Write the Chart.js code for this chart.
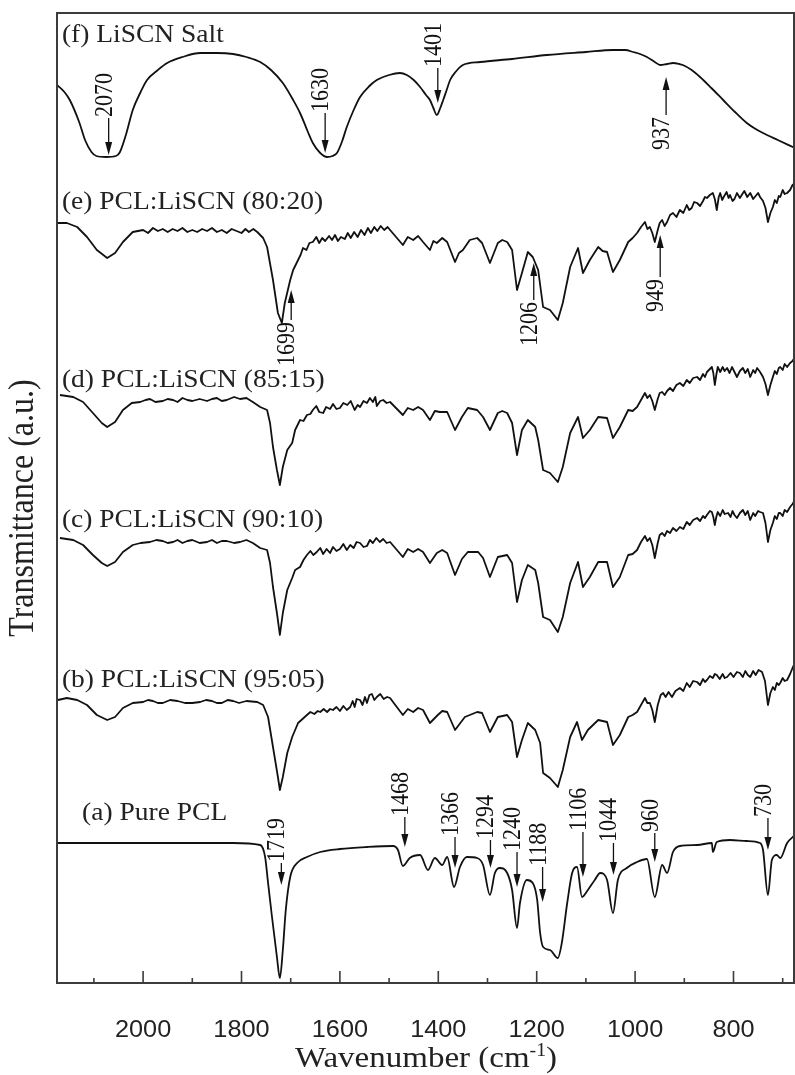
<!DOCTYPE html>
<html>
<head>
<meta charset="utf-8">
<title>FTIR spectra PCL:LiSCN</title>
<script src="https://cdn.jsdelivr.net/npm/chart.js@4.4.1/dist/chart.umd.min.js"></script>
<style>
  html, body { margin: 0; padding: 0; background: #fff; }
  #wrap { width: 795px; height: 1075px; position: relative; }
</style>
</head>
<body>
<div id="wrap"><canvas id="ftirChart"></canvas></div>
<script>
// [波数 (cm-1), 透過率 (a.u.)]  各スペクトルは縦方向にずらして読み取り
const liscnSalt = [[2175,89.8],[2160,89.1],[2149,88.3],[2130,86.1],[2118,84.3],[2105,83.1],[2095,82.7],[2075,82.6],[2055,82.7],[2047,83.1],[2035,84.8],[2021,87.3],[2005,89.1],[1992,90.3],[1970,91.3],[1951,92.0],[1920,92.6],[1884,93.0],[1850,93.0],[1817,92.9],[1790,92.6],[1762,92.1],[1740,91.3],[1716,90.0],[1695,88.3],[1681,87.0],[1665,85.1],[1655,84.0],[1640,83.0],[1626,82.6],[1615,82.7],[1606,83.0],[1596,84.1],[1586,85.6],[1572,87.3],[1559,88.6],[1540,89.7],[1525,90.3],[1500,90.8],[1478,91.0],[1464,90.8],[1450,90.3],[1437,89.6],[1425,88.8],[1417,88.3],[1410,87.5],[1403,86.8],[1396,87.5],[1390,88.3],[1383,89.3],[1376,90.3],[1365,91.1],[1350,91.8],[1315,92.1],[1250,92.4],[1179,92.8],[1100,93.1],[1045,93.3],[1020,93.3],[1004,93.1],[990,92.9],[976,92.6],[960,92.1],[949,91.8],[935,91.9],[923,92.0],[910,91.9],[903,91.8],[885,91.3],[868,90.6],[845,89.5],[821,88.3],[797,87.1],[773,86.0],[755,85.4],[740,85.0],[710,84.3],[675,83.5]];

const pcl8020 = [[2173,76.0],[2155,76.0],[2134,75.6],[2114,74.6],[2094,73.3],[2073,72.5],[2057,73.0],[2041,74.1],[2021,75.1],[2000,75.3],[1990,75.0],[1980,75.5],[1970,75.2],[1960,75.4],[1950,75.1],[1940,75.4],[1930,75.2],[1920,75.5],[1910,75.1],[1900,75.3],[1890,75.1],[1880,75.4],[1870,75.2],[1860,75.5],[1850,75.1],[1840,75.3],[1830,75.0],[1820,75.4],[1810,75.2],[1800,75.0],[1792,75.4],[1785,75.1],[1776,75.4],[1768,75.1],[1756,74.5],[1748,73.6],[1736,70.3],[1726,67.0],[1718,66.0],[1712,68.0],[1701,70.3],[1695,71.3],[1685,72.3],[1680,72.8],[1675,73.5],[1668,73.3],[1662,74.0],
  [1655,74.1],[1648,74.6],[1642,74.0],[1636,74.5],[1630,74.2],[1622,74.7],[1616,74.3],[1610,74.8],[1604,74.2],[1598,74.6],[1590,74.4],[1584,75.0],[1578,74.5],[1571,75.1],[1564,74.6],[1557,75.3],[1550,74.8],[1543,75.5],[1537,75.0],[1530,75.6],[1524,75.2],[1517,75.7],[1510,75.3],[1503,75.6],[1498,75.3],
  [1472,73.8],[1462,74.6],[1451,74.3],[1441,74.7],[1431,74.1],[1417,73.3],[1410,74.2],[1403,74.0],[1392,74.5],[1382,74.1],[1366,72.1],[1358,73.0],[1350,73.3],[1336,74.3],[1321,74.5],[1311,74.0],[1295,72.0],[1279,74.0],[1270,74.3],[1260,74.1],[1250,73.3],[1240,69.3],[1230,71.0],[1218,73.1],[1208,72.6],[1197,71.3],[1187,67.6],[1173,67.3],[1157,66.3],[1147,68.0],[1132,71.6],[1116,73.5],[1106,71.0],[1092,72.3],[1075,73.6],[1066,73.2],[1057,73.1],[1045,71.1],[1031,72.3],[1014,74.1],[1005,74.5],
  [996,75.0],[988,75.6],[980,76.1],[975,75.4],[970,75.6],[965,75.0],[960,74.1],[954,75.3],[950,76.0],[945,76.3],[940,75.7],[935,76.1],[929,76.8],[923,77.0],[916,76.6],[909,77.3],[902,77.0],[895,77.8],[890,77.3],[885,77.5],[880,78.1],[874,78.0],[868,77.7],[862,78.2],[858,78.6],[854,78.5],[848,78.8],[842,79.0],[838,78.4],[834,77.3],[830,78.6],[827,79.0],[823,78.3],[820,78.6],[814,79.1],[810,78.5],[807,78.8],[802,78.2],[798,78.4],[793,79.0],[787,78.5],[782,78.9],[778,79.2],[772,78.6],[766,79.0],[760,78.4],[755,78.7],[750,79.0],[746,78.6],[740,78.2],[735,77.5],[730,76.1],[725,77.0],[720,77.6],[716,78.3],[712,78.0],[708,78.7],[705,78.6],[700,79.3],[696,78.9],[691,79.0],[685,79.3],[680,79.8],[675,80.0]];

const pcl8515 = [[2169,58.8],[2142,58.6],[2122,58.1],[2102,57.0],[2084,56.0],[2073,55.6],[2057,56.1],[2041,57.3],[2023,58.0],[2006,58.1],[1995,58.3],[1986,58.4],[1975,58.1],[1960,58.2],[1950,58.4],[1939,58.3],[1930,58.1],[1920,58.5],[1910,58.3],[1900,58.2],[1885,58.4],[1870,58.2],[1860,58.4],[1850,58.5],[1840,58.2],[1830,58.3],[1815,58.6],[1803,58.4],[1790,58.5],[1777,58.1],[1762,57.6],[1748,57.3],[1742,56.0],[1736,53.6],[1728,51.3],[1722,49.8],[1716,51.6],[1707,53.3],[1697,54.0],[1691,55.3],[1681,56.3],[1674,56.2],[1667,56.8],[1660,56.9],
  [1655,57.3],[1648,57.7],[1642,57.1],[1634,57.0],[1628,57.6],[1620,57.4],[1614,57.9],[1607,57.4],[1600,57.5],[1593,58.0],[1585,57.8],[1578,58.2],[1570,57.3],[1564,57.8],[1559,57.6],[1552,58.2],[1545,58.0],[1539,58.5],[1533,58.1],[1528,58.6],[1525,57.7],[1518,58.2],[1512,58.3],[1505,58.0],[1498,58.1],
  [1472,56.8],[1462,57.5],[1451,57.3],[1441,57.6],[1431,57.3],[1417,56.3],[1407,57.2],[1397,57.1],[1382,57.1],[1366,55.3],[1352,56.6],[1340,57.5],[1321,57.3],[1309,56.6],[1295,55.3],[1279,57.0],[1270,57.2],[1260,57.0],[1250,56.0],[1240,52.8],[1230,55.3],[1218,56.3],[1203,55.6],[1197,54.3],[1187,51.3],[1173,51.0],[1157,50.1],[1147,51.6],[1132,55.0],[1116,56.6],[1106,54.5],[1092,55.3],[1075,56.6],[1057,56.5],[1045,54.5],[1031,55.6],[1014,57.3],[1005,57.2],
  [996,57.6],[988,58.3],[980,59.0],[975,58.5],[970,58.8],[965,58.2],[960,57.3],[954,58.4],[950,59.0],[945,59.1],[940,58.8],[935,59.2],[929,59.5],[923,59.2],[916,59.8],[909,60.0],[902,59.7],[895,60.3],[889,60.0],[882,60.5],[874,60.6],[868,60.3],[862,60.9],[858,60.6],[854,61.1],[848,61.4],[844,61.6],[841,61.0],[838,59.8],[835,60.8],[832,61.6],[827,61.1],[822,61.6],[818,61.2],[813,61.5],[808,61.0],[803,61.6],[798,61.1],[793,60.6],[787,61.2],[781,61.5],[776,61.0],[771,61.4],[766,60.6],[760,61.3],[756,61.0],[752,61.5],[746,61.1],[740,60.6],[735,59.9],[730,58.8],[725,59.8],[720,60.6],[716,61.2],[712,60.9],[708,61.5],[705,61.6],[700,61.3],[696,61.9],[691,61.6],[685,62.0],[680,62.2],[675,62.6]];

const pcl9010 = [[2169,44.5],[2142,44.3],[2122,43.8],[2102,42.8],[2084,42.0],[2073,41.7],[2057,42.1],[2041,43.1],[2021,43.8],[2005,44.0],[1986,44.1],[1973,44.3],[1960,44.2],[1950,44.0],[1939,44.1],[1930,44.3],[1920,44.0],[1910,44.2],[1900,44.3],[1885,44.0],[1870,44.1],[1860,44.3],[1850,44.0],[1840,44.2],[1830,44.2],[1815,44.0],[1803,44.1],[1790,44.3],[1777,44.0],[1762,43.5],[1748,43.3],[1742,42.0],[1736,39.6],[1728,37.0],[1722,34.8],[1716,37.0],[1707,39.3],[1697,40.5],[1691,41.3],[1681,41.6],[1674,42.3],
  [1667,42.8],[1660,43.2],[1654,42.8],[1647,43.1],[1640,43.5],[1634,42.9],[1627,43.4],[1620,43.0],[1614,43.6],[1607,43.2],[1600,43.4],[1593,43.9],[1586,43.3],[1579,43.8],[1572,43.5],[1566,44.1],[1559,44.0],[1552,43.6],[1545,43.7],[1539,44.3],[1533,44.0],[1526,44.5],[1519,44.1],[1512,44.4],[1505,44.0],[1498,44.1],
  [1472,42.6],[1462,43.4],[1451,43.1],[1441,43.4],[1431,43.1],[1417,42.0],[1403,43.0],[1392,43.3],[1382,43.0],[1366,40.8],[1352,42.4],[1340,43.1],[1319,43.1],[1309,42.5],[1295,40.6],[1279,42.6],[1260,42.8],[1250,42.0],[1240,38.1],[1230,40.3],[1218,41.8],[1203,41.3],[1197,40.0],[1187,36.6],[1173,36.3],[1157,35.1],[1147,36.6],[1132,40.0],[1116,42.1],[1106,39.6],[1092,40.6],[1075,42.1],[1057,42.1],[1045,39.6],[1031,40.6],[1014,42.8],[1005,42.9],
  [996,43.3],[988,44.1],[980,44.7],[975,44.2],[970,44.5],[965,43.8],[960,42.5],[954,44.0],[950,44.8],[945,45.0],[940,44.7],[935,45.2],[929,45.0],[923,45.5],[916,45.2],[909,45.6],[902,45.4],[895,46.1],[889,45.8],[882,46.3],[874,46.5],[868,46.2],[862,46.7],[858,46.5],[854,46.8],[848,47.2],[844,47.1],[841,46.6],[838,45.8],[835,46.6],[832,47.1],[827,46.7],[822,47.3],[818,46.9],[811,47.0],[806,46.6],[802,47.2],[798,46.8],[793,46.5],[787,47.0],[781,47.3],[776,46.8],[771,47.2],[766,46.3],[760,47.0],[756,46.7],[750,47.2],[746,47.1],[740,47.0],[735,46.0],[730,44.1],[725,45.3],[720,46.0],[716,46.7],[712,46.4],[708,47.0],[705,47.0],[700,46.7],[696,47.3],[691,47.1],[685,47.6],[680,47.9],[675,48.3]];

const pcl9505 = [[2173,28.3],[2155,28.5],[2134,28.3],[2114,27.8],[2094,26.8],[2073,26.3],[2057,26.6],[2041,27.5],[2021,28.0],[2000,28.1],[1990,28.3],[1980,28.2],[1970,28.0],[1960,28.0],[1945,28.3],[1930,28.2],[1915,28.0],[1900,28.0],[1884,28.1],[1872,28.3],[1860,28.2],[1850,28.0],[1840,28.0],[1828,28.3],[1817,28.2],[1805,28.0],[1790,28.2],[1768,28.1],[1756,27.8],[1746,26.6],[1736,23.6],[1726,20.6],[1722,19.3],[1716,20.6],[1707,23.0],[1697,24.6],[1685,26.0],[1676,26.4],
  [1667,26.8],[1660,27.1],[1652,26.9],[1645,27.2],[1640,27.1],[1633,27.4],[1626,27.1],[1620,27.4],[1614,27.3],[1607,27.6],[1600,27.2],[1593,27.7],[1586,27.3],[1579,27.6],[1574,28.2],[1570,27.6],[1566,28.4],[1559,28.3],[1554,27.8],[1549,28.6],[1545,28.0],[1540,28.8],[1535,28.9],[1530,28.3],[1525,28.6],[1518,28.9],[1511,28.4],[1504,28.6],[1498,28.5],[1492,28.1],
  [1472,26.8],[1462,27.4],[1451,27.1],[1441,27.5],[1431,27.3],[1417,26.0],[1401,26.8],[1392,27.2],[1382,27.1],[1366,25.3],[1346,26.6],[1321,27.1],[1311,27.0],[1295,25.1],[1279,26.6],[1260,26.8],[1250,26.1],[1240,22.6],[1230,24.3],[1218,26.0],[1203,25.3],[1193,24.0],[1187,21.0],[1173,20.5],[1157,19.6],[1147,21.3],[1132,24.6],[1118,26.1],[1108,24.3],[1096,25.3],[1075,26.3],[1057,26.1],[1045,23.8],[1031,24.8],[1014,26.6],[1005,26.8],
  [996,27.1],[988,27.8],[980,28.5],[975,28.0],[970,28.0],[965,27.3],[960,26.1],[954,27.8],[948,28.8],[943,29.0],[938,28.6],[932,29.1],[925,28.6],[918,29.2],[909,29.5],[902,29.2],[895,30.0],[889,29.6],[882,30.2],[874,30.1],[868,29.8],[862,30.4],[858,30.1],[854,30.3],[848,30.7],[842,30.5],[838,30.9],[834,30.8],[828,30.4],[822,30.9],[818,30.5],[813,30.6],[806,31.0],[800,30.6],[793,31.1],[787,31.0],[781,30.6],[776,31.2],[771,30.8],[766,30.6],[760,31.2],[755,30.8],[749,31.3],[742,31.1],[736,30.2],[730,27.8],[725,29.0],[720,29.6],[716,29.3],[712,30.0],[708,29.8],[705,30.0],[700,30.5],[696,30.2],[691,30.3],[685,30.9],[680,31.5],[675,32.0]];

const purePcl = [[2173,14.0],[2088,14.0],[1951,14.0],[1817,14.0],[1762,13.8],[1752,12.6],[1746,10.0],[1738,6.6],[1728,2.6],[1722,0.5],[1716,3.3],[1710,7.3],[1701,10.6],[1687,12.0],[1667,12.6],[1640,13.1],[1600,13.4],[1545,13.6],[1492,13.7],[1482,13.3],[1472,11.7],[1458,12.5],[1437,12.8],[1421,11.3],[1407,12.5],[1392,11.8],[1382,12.6],[1368,9.6],[1356,11.6],[1342,12.6],[1321,12.5],[1309,11.8],[1295,8.8],[1285,11.0],[1275,11.5],[1260,11.0],[1250,9.3],[1240,5.5],[1234,8.0],[1220,10.3],[1208,10.0],[1199,8.3],[1193,5.0],[1187,3.6],[1173,3.3],[1157,2.5],[1149,4.0],[1138,8.0],[1128,11.0],[1118,11.6],[1108,8.6],[1096,9.3],[1082,10.3],[1071,11.0],[1057,10.3],[1045,7.0],[1035,10.3],[1017,11.5],[996,12.1],[976,12.4],[960,8.6],[945,11.8],[935,11.0],[923,13.1],[909,13.7],[874,13.8],[844,14.0],[842,13.1],[834,14.1],[807,14.3],[773,14.2],[746,14.0],[740,13.3],[730,8.8],[722,12.3],[712,12.8],[705,12.5],[691,14.0],[675,14.8]];

// 目盛り
const majorTicks = [2000, 1800, 1600, 1400, 1200, 1000, 800];
const minorTicks = [2100, 1900, 1700, 1500, 1300, 1100, 900, 700];

// スペクトル名
const seriesNames = ['(f) LiSCN Salt', '(e) PCL:LiSCN (80:20)', '(d) PCL:LiSCN (85:15)',
                     '(c) PCL:LiSCN (90:10)', '(b) PCL:LiSCN (95:05)', '(a) Pure PCL'];
const seriesData = [liscnSalt, pcl8020, pcl8515, pcl9010, pcl9505, purePcl];
const smoothSeries = [true, false, false, false, false, true];

// ラベル位置（波数, a.u.）
const nameAnchors = [[2165, 94.8], [2165, 78.1], [2165, 60.3], [2165, 46.3], [2165, 30.3], [2124, 17.0]];

// ピーク帰属の矢印: 波数, 矢印先端, 矢印根元 (a.u.)
const peakMarks = [
  { wn: 2070, tip: 82.8, tail: 86.5 },
  { wn: 1630, tip: 83.0, tail: 87.0 },
  { wn: 1401, tip: 88.0, tail: 91.5 },
  { wn: 937,  tip: 90.6, tail: 86.8 },
  { wn: 1699, tip: 69.3, tail: 66.3 },
  { wn: 1206, tip: 72.0, tail: 68.3 },
  { wn: 949,  tip: 74.8, tail: 70.6 },
  { wn: 1719, tip: 9.8,  tail: 12.0 },
  { wn: 1468, tip: 13.6, tail: 16.6 },
  { wn: 1366, tip: 11.5, tail: 14.6 },
  { wn: 1294, tip: 11.5, tail: 14.3 },
  { wn: 1240, tip: 9.6,  tail: 13.1 },
  { wn: 1188, tip: 8.1,  tail: 11.6 },
  { wn: 1106, tip: 10.6, tail: 15.1 },
  { wn: 1044, tip: 10.8, tail: 14.0 },
  { wn: 960,  tip: 12.1, tail: 15.0 },
  { wn: 730,  tip: 13.3, tail: 16.5 }
];

const SERIF = s => `${s}px "Liberation Serif", "Times New Roman", serif`;
const SANS = s => `${s}px "Liberation Sans", Arial, sans-serif`;
const STRETCH = 1.1; // 文字の横方向の伸び

function putText(ctx, str, px, py, font, align, baseline, rot) {
  ctx.save();
  ctx.translate(px, py);
  ctx.scale(STRETCH, 1);
  if (rot) ctx.rotate(rot);
  ctx.font = font;
  ctx.textAlign = align;
  ctx.textBaseline = baseline;
  ctx.fillText(str, 0, 0);
  ctx.restore();
}

// 枠・内向き目盛り・ラベル・矢印を描く
const decorPlugin = {
  id: 'decor',
  afterDraw(chart) {
    const { ctx, chartArea: a, scales: { x, y } } = chart;
    ctx.save();
    ctx.strokeStyle = '#3c3c3c';
    ctx.lineWidth = 2;
    ctx.strokeRect(a.left, a.top, a.right - a.left - 1, a.bottom - a.top);

    ctx.lineWidth = 1.6;
    ctx.beginPath();
    majorTicks.forEach(v => {
      const px = x.getPixelForValue(v);
      ctx.moveTo(px, a.bottom); ctx.lineTo(px, a.bottom - 12);
    });
    minorTicks.forEach(v => {
      const px = x.getPixelForValue(v);
      ctx.moveTo(px, a.bottom); ctx.lineTo(px, a.bottom - 5);
    });
    ctx.stroke();

    ctx.fillStyle = '#222';
    majorTicks.forEach(v => {
      putText(ctx, String(v), x.getPixelForValue(v), a.bottom + 48, SANS(23), 'center', 'middle', 0);
    });

    // x軸タイトル（上付き -1）
    const cx = (a.left + a.right) / 2, ty = a.bottom + 84;
    const parts = [['Wavenumber (cm', SERIF(30), 0], ['-1', SERIF(18), -11], [')', SERIF(30), 0]];
    let total = 0;
    parts.forEach(p => { ctx.font = p[1]; p.push(ctx.measureText(p[0]).width * STRETCH); total += p[3]; });
    let sx = cx - total / 2;
    parts.forEach(p => {
      putText(ctx, p[0], sx, ty + p[2], p[1], 'left', 'alphabetic', 0);
      sx += p[3];
    });

    // y軸タイトル
    putText(ctx, 'Transmittance (a.u.)', 24, 508, SERIF(32), 'center', 'middle', -Math.PI / 2);

    // スペクトル名
    seriesNames.forEach((name, i) => {
      const [wn, v] = nameAnchors[i];
      putText(ctx, name, x.getPixelForValue(wn), y.getPixelForValue(v), SERIF(25), 'left', 'middle', 0);
    });

    // ピーク矢印
    ctx.strokeStyle = '#111';
    ctx.fillStyle = '#111';
    peakMarks.forEach(m => {
      const px = x.getPixelForValue(m.wn);
      const tipY = y.getPixelForValue(m.tip), tailY = y.getPixelForValue(m.tail);
      const dir = tipY > tailY ? 1 : -1; // 1: 下向き
      const head = 13, half = 3.5;
      ctx.lineWidth = 1.3;
      ctx.beginPath();
      ctx.moveTo(px, tailY); ctx.lineTo(px, tipY - dir * head);
      ctx.stroke();
      ctx.beginPath();
      ctx.moveTo(px, tipY);
      ctx.lineTo(px - half, tipY - dir * head);
      ctx.lineTo(px + half, tipY - dir * head);
      ctx.closePath();
      ctx.fill();
      const label = String(m.wn);
      if (dir === 1) {
        putText(ctx, label, px + 3, tailY - 1, SERIF(22), 'left', 'alphabetic', -Math.PI / 2);
      } else {
        putText(ctx, label, px + 3, tailY + 2, SERIF(22), 'right', 'alphabetic', -Math.PI / 2);
      }
    });
    ctx.restore();
  }
};

const datasets = seriesData.map((pts, i) => ({
  label: seriesNames[i],
  data: pts.map(([wn, t]) => ({ x: wn, y: t })),
  borderColor: '#111',
  borderWidth: 1.8,
  borderJoinStyle: 'round',
  pointRadius: 0,
  fill: false,
  tension: 0,
  cubicInterpolationMode: smoothSeries[i] ? 'monotone' : 'default'
}));

new Chart(document.getElementById('ftirChart').getContext('2d'), {
  type: 'line',
  data: { datasets: datasets },
  options: {
    responsive: true,
    maintainAspectRatio: false,
    animation: false,
    layout: { padding: { left: 57, right: 0, top: 13, bottom: 92 } },
    plugins: { legend: { display: false }, tooltip: { enabled: false } },
    scales: {
      x: { type: 'linear', reverse: true, min: 675, max: 2175, display: false },
      y: { type: 'linear', min: 0, max: 97, display: false }
    }
  },
  plugins: [decorPlugin]
});
</script>
</body>
</html>
